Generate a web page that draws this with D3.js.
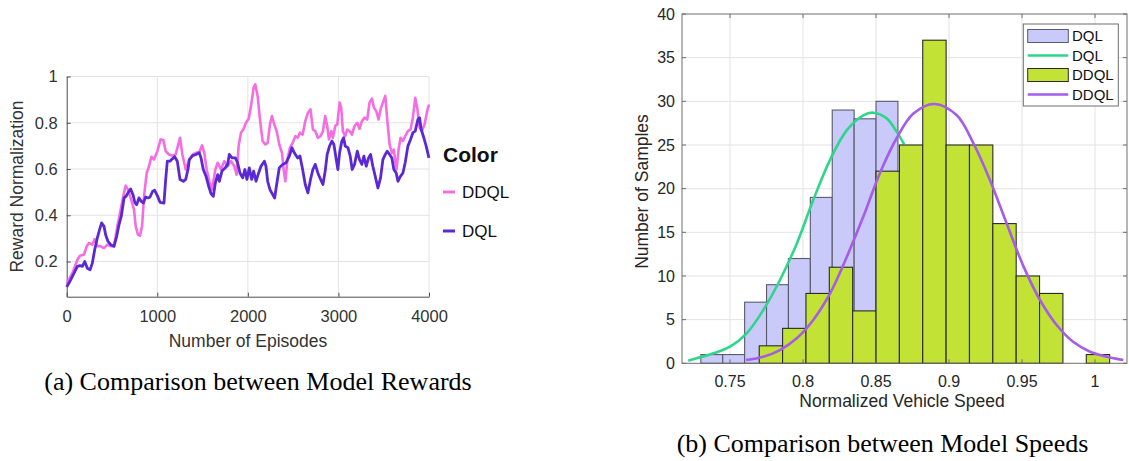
<!DOCTYPE html>
<html>
<head>
<meta charset="utf-8">
<script src="https://cdn.jsdelivr.net/npm/d3@7"></script>
<style>
  body { margin: 0; background: #fff; }
  text { font-family: "Liberation Sans", Arial, Helvetica, sans-serif; }
  .caption { font-family: "Liberation Serif", "Times New Roman", serif; }
</style>
</head>
<body>
<script>
// ---- (a) reward curves ----
const ddqlEpisodes = [0,63,118,147,191,221,246,283,309,338,375,412,449,486,522,559,596,633,651,677,706,743,762,787,809,832,854,883,909,935,964,1001,1037,1067,1093,1130,1166,1203,1251,1277,1314,1354,1391,1427,1464,1494,1519,1545,1575,1604,1641,1667,1703,1740,1777,1814,1851,1876,1898,1924,1950,1979,2009,2035,2064,2082,2108,2134,2163,2193,2219,2244,2266,2292,2318,2347,2377,2395,2414,2439,2465,2495,2524,2550,2575,2605,2634,2663,2692,2718,2744,2773,2803,2829,2854,2876,2895,2921,2939,2965,2987,3013,3031,3049,3075,3097,3123,3149,3178,3208,3233,3259,3289,3318,3344,3370,3392,3417,3443,3465,3491,3517,3539,3565,3590,3612,3627,3642,3664,3686,3712,3737,3767,3796,3822,3848,3870,3896,3922,3951,3980,3999];
const ddqlRewards = [0.105,0.15,0.208,0.225,0.23,0.266,0.28,0.273,0.297,0.266,0.266,0.258,0.273,0.266,0.266,0.352,0.425,0.497,0.528,0.511,0.475,0.425,0.352,0.316,0.312,0.352,0.482,0.583,0.612,0.653,0.641,0.677,0.728,0.725,0.677,0.663,0.658,0.663,0.735,0.663,0.598,0.641,0.663,0.67,0.673,0.702,0.67,0.598,0.547,0.511,0.598,0.627,0.598,0.634,0.612,0.634,0.612,0.576,0.699,0.757,0.771,0.8,0.817,0.872,0.952,0.966,0.916,0.814,0.721,0.706,0.713,0.793,0.829,0.793,0.764,0.706,0.67,0.598,0.547,0.648,0.692,0.713,0.742,0.735,0.757,0.749,0.807,0.843,0.858,0.771,0.764,0.735,0.742,0.764,0.829,0.786,0.728,0.764,0.735,0.786,0.793,0.887,0.865,0.764,0.742,0.771,0.764,0.749,0.786,0.8,0.774,0.807,0.822,0.814,0.887,0.904,0.865,0.851,0.814,0.858,0.887,0.916,0.814,0.706,0.67,0.684,0.634,0.598,0.684,0.735,0.721,0.742,0.764,0.771,0.822,0.908,0.865,0.778,0.764,0.793,0.851,0.879];

const dqlEpisodes = [0,44,81,118,147,173,199,228,258,283,309,338,368,386,412,430,456,486,522,552,578,603,633,655,677,706,732,754,773,798,824,846,872,898,920,949,971,1001,1030,1074,1093,1111,1141,1166,1192,1221,1251,1288,1314,1340,1354,1391,1427,1464,1483,1508,1538,1567,1593,1619,1641,1667,1685,1714,1751,1777,1795,1825,1862,1887,1913,1943,1968,1990,2016,2042,2064,2090,2119,2145,2182,2200,2219,2244,2274,2296,2318,2347,2384,2421,2458,2487,2513,2550,2575,2605,2634,2663,2692,2718,2744,2773,2803,2829,2854,2876,2902,2928,2950,2976,2994,3013,3038,3057,3075,3105,3130,3152,3178,3208,3233,3259,3281,3307,3333,3355,3380,3406,3436,3465,3491,3517,3539,3565,3590,3612,3638,3657,3686,3712,3737,3767,3796,3822,3848,3877,3896,3914,3943,3969,3999];
const dqlRewards = [0.09,0.121,0.15,0.179,0.182,0.179,0.2,0.171,0.164,0.193,0.251,0.302,0.345,0.367,0.352,0.316,0.287,0.273,0.266,0.309,0.36,0.396,0.475,0.482,0.497,0.514,0.489,0.453,0.446,0.475,0.46,0.453,0.479,0.475,0.479,0.504,0.508,0.485,0.456,0.453,0.555,0.634,0.634,0.644,0.653,0.634,0.555,0.547,0.555,0.6,0.641,0.658,0.663,0.67,0.648,0.598,0.569,0.526,0.494,0.482,0.54,0.576,0.547,0.591,0.605,0.62,0.663,0.648,0.648,0.627,0.583,0.562,0.598,0.555,0.605,0.555,0.591,0.547,0.583,0.612,0.634,0.612,0.547,0.511,0.49,0.475,0.533,0.605,0.62,0.627,0.656,0.692,0.67,0.648,0.656,0.598,0.533,0.497,0.555,0.598,0.62,0.583,0.555,0.533,0.591,0.663,0.699,0.721,0.706,0.641,0.598,0.67,0.721,0.735,0.699,0.692,0.656,0.598,0.62,0.677,0.641,0.62,0.656,0.612,0.648,0.663,0.612,0.569,0.518,0.562,0.641,0.663,0.677,0.663,0.648,0.598,0.583,0.547,0.569,0.583,0.627,0.699,0.728,0.757,0.764,0.814,0.822,0.771,0.735,0.699,0.648];

const rewardXTicks = [0, 1000, 2000, 3000, 4000];
const rewardYTicks = [0.2, 0.4, 0.6, 0.8, 1];
const rewardLegend = ["DDQL", "DQL"];

// ---- (b) speed histograms ----
const dqlEdges  = [0.730,0.745,0.760,0.775,0.790,0.805,0.820,0.835,0.850,0.865];
const dqlCounts = [1,1,7,9,12,19,29,28,30];
const ddqlEdges  = [0.770,0.786,0.802,0.818,0.834,0.850,0.866,0.882,0.898,0.914,0.930,0.946,0.962,0.978,0.994,1.010];
const ddqlCounts = [2,4,8,11,6,22,25,37,25,25,16,10,8,0,1];

// fitted curves, visible parts
const dqlFitX = [0.7214,0.7386,0.75,0.7614,0.7728,0.7842,0.7957,0.807,0.8185,0.83,0.8413,0.848,0.8573,0.8642,0.8692];
const dqlFitY = [0.30,1.14,1.9,3.43,6.1,9.54,13.7,18.7,23.3,26.7,28.4,28.7,28.05,26.5,25.1];
const ddqlFitX = [0.761,0.7728,0.7842,0.7957,0.807,0.8185,0.83,0.8413,0.8527,0.8642,0.8756,0.890,0.9053,0.9167,0.928,0.9395,0.951,0.9623,0.9737,0.985,0.9966,1.008,1.0194];
const ddqlFitY = [0.38,0.76,1.52,2.86,4.96,8.0,12.2,16.8,21.8,25.8,28.6,29.7,28.4,25.2,21.0,16.0,11.1,7.25,4.39,2.47,1.33,0.76,0.38];

const speedXTicks = [0.75, 0.8, 0.85, 0.9, 0.95, 1];
const speedYTicks = [0, 5, 10, 15, 20, 25, 30, 35, 40];
const speedLegend = ["DQL", "DQL", "DDQL", "DDQL"];

const width = 1129, height = 461;
const pink = "#f66ce2", violet = "#5a29d4";
const lavender = "#c9c9fa", lime = "#c3e236";
const mint = "#2ed68b", lilac = "#a55ce8";
const gridColor = "#e3e3e3";

const svg = d3.select("body").append("svg")
    .attr("width", width)
    .attr("height", height);

////////////////////////////////////////////////////////////
// (a) Comparison between Model Rewards

const xR = d3.scaleLinear().domain([0, 4000]).range([66.7, 429]);
const yR = d3.scaleLinear().domain([0.048, 1]).range([296.7, 76.5]);

const gA = svg.append("g");

gA.selectAll(".vgrid").data(rewardXTicks.slice(1)).enter()
  .append("line")
    .attr("x1", d => xR(d)).attr("x2", d => xR(d))
    .attr("y1", yR(1)).attr("y2", yR.range()[0])
    .attr("stroke", gridColor);

gA.selectAll(".hgrid").data(rewardYTicks).enter()
  .append("line")
    .attr("x1", xR(0)).attr("x2", xR(4000))
    .attr("y1", d => yR(d)).attr("y2", d => yR(d))
    .attr("stroke", gridColor);

gA.append("g")
    .attr("transform", "translate(0," + yR.range()[0] + ")")
    .call(d3.axisBottom(xR).tickValues(rewardXTicks).tickSize(-4).tickPadding(14).tickSizeOuter(0).tickFormat(d3.format("d")))
    .call(g => g.select(".domain").attr("stroke", "#4d4d4d"))
    .call(g => g.selectAll(".tick line").attr("stroke", "#4d4d4d"))
    .call(g => g.selectAll("text").attr("fill", "#333").style("font-size", "16.5px"));

gA.append("g")
    .attr("transform", "translate(" + xR(0) + ",0)")
    .call(d3.axisLeft(yR).tickValues(rewardYTicks).tickSize(-4).tickPadding(9).tickSizeOuter(0).tickFormat(d3.format("")))
    .call(g => g.select(".domain").attr("stroke", "#4d4d4d"))
    .call(g => g.selectAll(".tick line").attr("stroke", "#4d4d4d"))
    .call(g => g.selectAll("text").attr("fill", "#333").style("font-size", "16.5px"));

const rewardLine = d3.line().x(d => xR(d[0])).y(d => yR(d[1]));

gA.append("path")
    .datum(ddqlEpisodes.map((e, i) => [e, ddqlRewards[i]]))
    .attr("d", rewardLine)
    .attr("fill", "none").attr("stroke", pink).attr("stroke-width", 2.6)
    .attr("stroke-linejoin", "round");

gA.append("path")
    .datum(dqlEpisodes.map((e, i) => [e, dqlRewards[i]]))
    .attr("d", rewardLine)
    .attr("fill", "none").attr("stroke", violet).attr("stroke-width", 2.8)
    .attr("stroke-linejoin", "round");

gA.append("text")
    .attr("x", 248).attr("y", 347)
    .attr("text-anchor", "middle").attr("fill", "#333")
    .style("font-size", "17.5px")
    .text("Number of Episodes");

gA.append("text")
    .attr("transform", "translate(23,186.5) rotate(-90)")
    .attr("text-anchor", "middle").attr("fill", "#333")
    .style("font-size", "17.5px")
    .text("Reward Normalization");

// legend on the right of the plot
gA.append("text")
    .attr("x", 443).attr("y", 161.7)
    .attr("font-weight", "bold").attr("fill", "#111")
    .style("font-size", "21px")
    .text("Color");

const legA = gA.selectAll(".legA").data(rewardLegend).enter()
  .append("g")
    .attr("transform", (d, i) => "translate(443," + (192 + i * 39) + ")");
legA.append("line")
    .attr("x1", 0).attr("x2", 12)
    .attr("stroke", (d, i) => i === 0 ? pink : violet)
    .attr("stroke-width", 3);
legA.append("text")
    .attr("x", 19).attr("y", 6.3)
    .attr("fill", "#111").style("font-size", "17px")
    .text(d => d);

svg.append("text")
    .attr("class", "caption")
    .attr("x", 258).attr("y", 390)
    .attr("text-anchor", "middle").attr("fill", "#000")
    .style("font-size", "26px")
    .text("(a) Comparison between Model Rewards");

////////////////////////////////////////////////////////////
// (b) Comparison between Model Speeds

const xS = d3.scaleLinear().domain([0.7171, 1.0219]).range([682, 1127]);
const yS = d3.scaleLinear().domain([0, 40]).range([363.3, 14]);

const gB = svg.append("g");

gB.selectAll(".vgrid").data(speedXTicks).enter()
  .append("line")
    .attr("x1", d => xS(d)).attr("x2", d => xS(d))
    .attr("y1", yS(40)).attr("y2", yS(0))
    .attr("stroke", gridColor);

gB.selectAll(".hgrid").data(speedYTicks.slice(1, -1)).enter()
  .append("line")
    .attr("x1", xS.range()[0]).attr("x2", xS.range()[1])
    .attr("y1", d => yS(d)).attr("y2", d => yS(d))
    .attr("stroke", gridColor);

function drawBars(edges, counts, fill, edge) {
  gB.append("g").selectAll("rect").data(counts).enter()
    .append("rect")
      .attr("x", (d, i) => xS(edges[i]))
      .attr("width", (d, i) => xS(edges[i + 1]) - xS(edges[i]))
      .attr("y", d => yS(d))
      .attr("height", d => yS(0) - yS(d))
      .attr("fill", fill)
      .attr("stroke", edge)
      .attr("stroke-width", d => d > 0 ? 1.1 : 0);
}

const fitLine = d3.line().x(d => xS(d[0])).y(d => yS(d[1])).curve(d3.curveCatmullRom);

drawBars(dqlEdges, dqlCounts, lavender, "#5a5a6e");
gB.append("path")
    .datum(dqlFitX.map((v, i) => [v, dqlFitY[i]]))
    .attr("d", fitLine)
    .attr("fill", "none").attr("stroke", mint).attr("stroke-width", 2.6);

drawBars(ddqlEdges, ddqlCounts, lime, "#2a2a2a");
gB.append("path")
    .datum(ddqlFitX.map((v, i) => [v, ddqlFitY[i]]))
    .attr("d", fitLine)
    .attr("fill", "none").attr("stroke", lilac).attr("stroke-width", 2.6);

// box and inward ticks
const [bx0, bx1] = xS.range();
const [by0, by1] = yS.range();
gB.append("rect")
    .attr("x", bx0).attr("y", by1)
    .attr("width", bx1 - bx0).attr("height", by0 - by1)
    .attr("fill", "none").attr("stroke", "#6e6e6e");

gB.selectAll(".xt").data(speedXTicks).enter()
  .append("path")
    .attr("d", d => "M" + xS(d) + "," + by0 + "v-4M" + xS(d) + "," + by1 + "v4")
    .attr("stroke", "#6e6e6e");
gB.selectAll(".yt").data(speedYTicks).enter()
  .append("path")
    .attr("d", d => "M" + bx0 + "," + yS(d) + "h4M" + bx1 + "," + yS(d) + "h-4")
    .attr("stroke", "#6e6e6e");

gB.selectAll(".xl").data(speedXTicks).enter()
  .append("text")
    .attr("x", d => xS(d)).attr("y", 387)
    .attr("text-anchor", "middle").attr("fill", "#262626")
    .style("font-size", "16px")
    .text(d => d3.format("")(d));

gB.selectAll(".yl").data(speedYTicks).enter()
  .append("text")
    .attr("x", 675).attr("y", d => yS(d) + 5.8)
    .attr("text-anchor", "end").attr("fill", "#262626")
    .style("font-size", "16px")
    .text(d => d);

gB.append("text")
    .attr("x", 902).attr("y", 406.5)
    .attr("text-anchor", "middle").attr("fill", "#262626")
    .style("font-size", "17.5px")
    .text("Normalized Vehicle Speed");

gB.append("text")
    .attr("transform", "translate(648,191.5) rotate(-90)")
    .attr("text-anchor", "middle").attr("fill", "#262626")
    .style("font-size", "17.5px")
    .text("Number of Samples");

// legend box
const legB = gB.append("g").attr("transform", "translate(1023.3,24)");
legB.append("rect")
    .attr("width", 95).attr("height", 82)
    .attr("fill", "#fff").attr("stroke", "#6e6e6e");

const legItems = legB.selectAll(".item").data(speedLegend).enter()
  .append("g")
    .attr("transform", (d, i) => "translate(0," + (12 + i * 19.5) + ")");

legItems.each(function (d, i) {
  const g = d3.select(this);
  if (i % 2 === 0) {
    g.append("rect")
      .attr("x", 4.4).attr("y", -6.5)
      .attr("width", 40.6).attr("height", 13)
      .attr("fill", i === 0 ? lavender : lime)
      .attr("stroke", i === 0 ? "#5a5a6e" : "#2a2a2a");
  } else {
    g.append("line")
      .attr("x1", 4.4).attr("x2", 45)
      .attr("stroke", i === 1 ? mint : lilac)
      .attr("stroke-width", 2.6);
  }
  g.append("text")
    .attr("x", 48.7).attr("y", 5.3)
    .attr("fill", "#111").style("font-size", "15px")
    .text(d);
});

svg.append("text")
    .attr("class", "caption")
    .attr("x", 882.5).attr("y", 452)
    .attr("text-anchor", "middle").attr("fill", "#000")
    .style("font-size", "26px")
    .text("(b) Comparison between Model Speeds");
</script>
</body>
</html>
